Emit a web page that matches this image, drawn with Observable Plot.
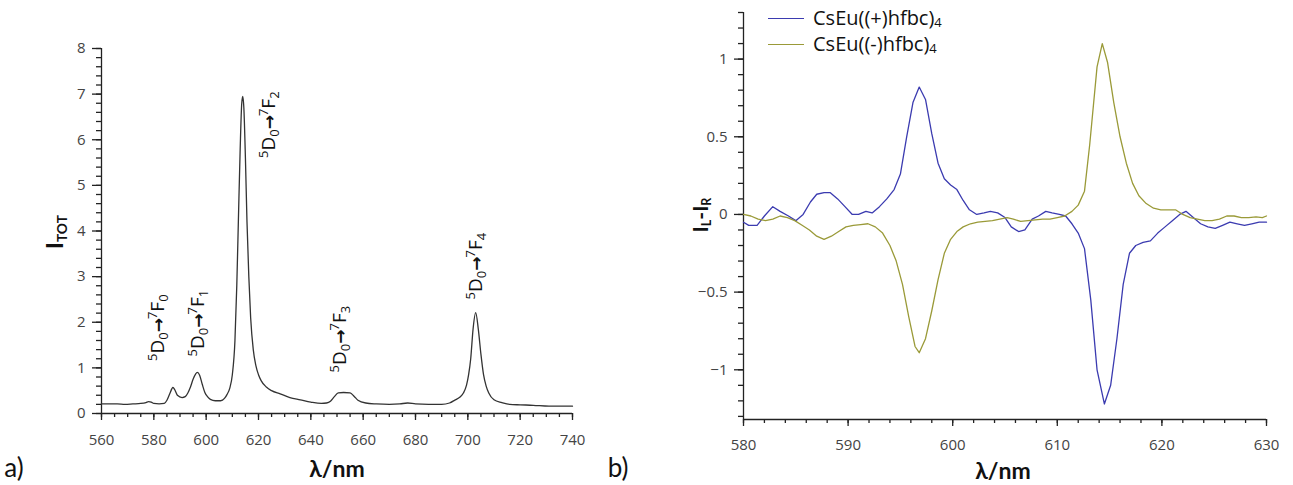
<!DOCTYPE html>
<html><head><meta charset="utf-8">
<script src="https://cdn.jsdelivr.net/npm/d3@7"></script>
<script src="https://cdn.jsdelivr.net/npm/@observablehq/plot@0.6"></script>
<style>
body{margin:0;background:#fff;}
#wrap{position:relative;width:1293px;height:485px;overflow:hidden;background:#fff;}
.plot{position:absolute;top:0;}
.lab{position:absolute;font-family:Lato,"Open Sans",sans-serif;font-weight:700;color:#111;white-space:nowrap;line-height:1;transform:translate(-50%,-50%);}
.rot{transform:translate(-50%,-50%) rotate(-90deg);}
.lab sub{font-size:0.6em;vertical-align:-0.25em;}
.panel{position:absolute;font-family:Lato,sans-serif;font-size:26px;color:#111;line-height:1;transform:translate(-50%,-50%);}
.leg{position:absolute;font-family:"Open Sans",sans-serif;font-size:20px;color:#111;line-height:1;white-space:nowrap;transform:translateY(-50%);}
.leg sub{font-size:0.65em;vertical-align:-0.15em;line-height:0;}
.legline{position:absolute;height:0;width:36px;}
</style></head>
<body>
<div id="wrap"></div>
<script>
// ---------- Panel a: total emission ----------
const lambdaA = [560,563,566,569,572,575,577,578,579,580,582,584,585,586,587.3,588,589,590.8,592,593,594,595,596,596.6,597.5,598.5,599.5,600.5,601.6,603.5,605.5,607,608,609,610,611,611.7,612.3,613,613.6,614,614.4,615,615.6,616.3,617,618,619,620,621,623,625,628.3,632,636,640,644,646,647.5,649,650.5,652.5,655,656.5,658,661,665,670,674,677,680,685,690,693,695.2,697,698.3,699.5,700.3,701.1,702,703,704,705,706,707,708,710,713,716,720,725,731,735,740];
const itot    = [0.21,0.21,0.21,0.2,0.21,0.22,0.24,0.26,0.25,0.22,0.21,0.22,0.29,0.42,0.57,0.52,0.4,0.35,0.37,0.45,0.58,0.75,0.87,0.9,0.84,0.64,0.46,0.37,0.31,0.28,0.28,0.33,0.42,0.55,0.85,1.6,2.8,4.2,5.8,6.8,6.95,6.7,5.6,4.2,3.0,2.1,1.4,1.05,0.85,0.72,0.58,0.5,0.43,0.35,0.3,0.25,0.22,0.23,0.27,0.37,0.45,0.46,0.45,0.38,0.29,0.23,0.21,0.2,0.21,0.23,0.21,0.2,0.2,0.23,0.3,0.36,0.45,0.62,0.85,1.2,1.85,2.21,1.85,1.3,0.85,0.6,0.45,0.3,0.24,0.2,0.19,0.18,0.16,0.16,0.16];
const xTicksA = [560,580,600,620,640,660,680,700,720,740];
const yTicksA = [0,1,2,3,4,5,6,7,8];
const transLambda = [581.5,597,624,651.3,702.9];
const transY      = [1.15,1.25,5.6,0.9,2.5];
const transText   = ["5D0→7F0","5D0→7F1","5D0→7F2","5D0→7F3","5D0→7F4"];

// ---------- Panel b: CPL ----------
const lambdaPlus = [580,580.5,581.3,582,582.8,583.5,584.3,585,585.7,586.4,587,587.7,588.3,589,589.7,590.4,591,591.7,592.3,593,593.7,594.4,595,595.6,596.2,596.8,597.4,598,598.6,599.2,599.8,600.4,601,601.6,602.3,603,603.6,604.3,605,605.6,606.3,606.9,607.6,608.2,608.9,609.5,610.2,610.8,611.4,612,612.6,613.2,613.8,614.5,615.1,615.7,616.3,616.9,617.5,618.2,618.9,619.6,620.3,621,621.7,622.3,623,623.7,624.4,625.1,625.8,626.5,627.2,627.9,628.6,629.3,630];
const valPlus    = [-0.05,-0.07,-0.07,-0.01,0.05,0.02,-0.01,-0.04,0.0,0.08,0.13,0.14,0.14,0.1,0.05,0.0,0.0,0.02,0.01,0.05,0.1,0.16,0.26,0.5,0.72,0.82,0.74,0.52,0.33,0.23,0.19,0.16,0.09,0.03,0.0,0.01,0.02,0.01,-0.02,-0.08,-0.11,-0.1,-0.03,-0.01,0.02,0.01,0.0,-0.01,-0.06,-0.12,-0.22,-0.55,-1.0,-1.22,-1.1,-0.8,-0.45,-0.25,-0.2,-0.18,-0.17,-0.12,-0.08,-0.04,0.0,0.02,-0.02,-0.06,-0.08,-0.09,-0.07,-0.05,-0.06,-0.07,-0.06,-0.05,-0.05];
const lambdaMinus = [580,580.7,581.4,582.1,582.8,583.5,584.2,584.9,585.6,586.3,587,587.7,588.4,589.1,589.8,590.5,591.2,591.9,592.6,593.3,594,594.6,595.2,595.8,596.4,596.8,597.4,598,598.6,599.2,599.8,600.4,601,601.7,602.4,603.1,603.8,604.5,605.2,605.8,606.5,607.2,607.9,608.6,609.3,610,610.7,611.4,612,612.6,613.1,613.8,614.3,614.8,615.4,616,616.6,617.2,617.8,618.5,619.2,619.9,620.6,621.3,622,622.7,623.4,624.1,624.8,625.5,626.2,626.9,627.6,628.3,629,629.6,630];
const valMinus    = [0.0,-0.01,-0.03,-0.04,-0.03,-0.01,-0.02,-0.04,-0.07,-0.1,-0.14,-0.16,-0.14,-0.11,-0.08,-0.07,-0.065,-0.06,-0.08,-0.12,-0.2,-0.3,-0.45,-0.66,-0.85,-0.89,-0.8,-0.62,-0.42,-0.25,-0.16,-0.11,-0.08,-0.06,-0.05,-0.045,-0.04,-0.03,-0.02,-0.03,-0.045,-0.04,-0.035,-0.03,-0.03,-0.02,-0.01,0.02,0.06,0.15,0.45,0.95,1.1,0.98,0.72,0.5,0.33,0.2,0.12,0.07,0.04,0.03,0.03,0.03,0.0,-0.02,-0.03,-0.04,-0.04,-0.03,-0.01,-0.01,-0.02,-0.02,-0.015,-0.02,-0.01];
const seriesNames = ["CsEu((+)hfbc)4","CsEu((-)hfbc)4"];
const seriesColors = ["#3b3bb0","#9a9a38"];
const xTicksB = [580,590,600,610,620,630];
const yTicksB = [-1,-0.5,0,0.5,1];

const fmt = d => d3.format("~g")(d).replace("-", "\u2212");
const wrap = document.getElementById("wrap");

function axes(xMajor, xMinor, yMajor, yMinor, padX) {
  return [
    Plot.axisX({ticks: xMajor, tickSize: 7, tickPadding: padX, tickFormat: fmt, label: null, color: "#444", stroke: "#222", strokeWidth: 1.3}),
    Plot.axisX({ticks: xMinor, tickSize: 4, tickFormat: () => "", label: null, stroke: "#222", strokeWidth: 1.3}),
    Plot.axisY({ticks: yMajor, tickSize: 9, tickPadding: 7, tickFormat: fmt, label: null, color: "#444", stroke: "#222", strokeWidth: 1.3}),
    Plot.axisY({ticks: yMinor, tickSize: 5, tickFormat: () => "", label: null, stroke: "#222", strokeWidth: 1.3})
  ];
}
// enlarge every axis tick label (all texts outside the annotation mark)
function bigTicks(svg) {
  svg.querySelectorAll("text").forEach(t => {
    if (t.closest('g[aria-label="text"]')) return;
    t.setAttribute("font-size", "15");
    t.style.fontSize = "15px";
    t.style.fontFamily = "'Open Sans'";
  });
}

// Panel a
const dataA = lambdaA.map((l, i) => ({l, v: itot[i]}));
const labelsA = transText.map((t, i) => ({x: transLambda[i], y: transY[i], t}));
const plotA = Plot.plot({
  width: 600, height: 485,
  marginLeft: 101, marginRight: 28, marginTop: 48, marginBottom: 72,
  style: {fontFamily: "Open Sans", fontSize: "15px", background: "transparent", overflow: "visible"},
  x: {domain: [560, 740]},
  y: {domain: [0, 8]},
  marks: [
    ...axes(xTicksA, d3.range(560, 741, 5), yTicksA, d3.range(0, 8.01, 0.2).map(d => +d.toFixed(1)), 14),
    Plot.ruleX([560], {y1: 0, y2: 8, stroke: "#222", strokeWidth: 1.3}),
    Plot.ruleY([0], {x1: 560, x2: 740, stroke: "#222", strokeWidth: 1.3}),
    Plot.line(dataA, {x: "l", y: "v", stroke: "#333", strokeWidth: 1.3, curve: "monotone-x"}),
    Plot.text(labelsA, {x: "x", y: "y", text: "t", rotate: -90, textAnchor: "start", fontSize: 19, fontFamily: "Open Sans", fill: "#111"})
  ]
});
plotA.classList.add("plot");
plotA.style.left = "0px";
wrap.appendChild(plotA);
bigTicks(plotA);

// rich text for transitions: superscript / subscript
plotA.querySelectorAll('g[aria-label="text"] text').forEach(t => {
  const s = t.textContent;
  const m = s.match(/^(\d)D(\d)→(\d)F(\d)$/);
  if (!m) return;
  t.textContent = "";
  const parts = [[m[1], 13, -7], ["D", 19, 7], [m[2], 13, 4], ["→", 17, -4, true], [m[3], 13, -7], ["F", 19, 7], [m[4], 13, 4]];
  parts.forEach(([txt, fs, dy, arrow]) => {
    const ts = document.createElementNS("http://www.w3.org/2000/svg", "tspan");
    ts.setAttribute("font-size", fs);
    ts.setAttribute("dy", dy);
    if (arrow) {
      ts.setAttribute("font-family", "DejaVu Sans");
      ts.setAttribute("font-weight", "bold");
      ts.setAttribute("letter-spacing", "-1");
    }
    ts.textContent = txt;
    t.appendChild(ts);
  });
});

// Panel b
const dataB = [
  ...lambdaPlus.map((l, i) => ({l, v: valPlus[i], s: seriesNames[0]})),
  ...lambdaMinus.map((l, i) => ({l, v: valMinus[i], s: seriesNames[1]}))
];
const plotB = Plot.plot({
  width: 653, height: 485,
  marginLeft: 103, marginRight: 27, marginTop: 12, marginBottom: 66,
  style: {fontFamily: "Open Sans", fontSize: "15px", background: "transparent", overflow: "visible"},
  x: {domain: [580, 630]},
  y: {domain: [-1.32, 1.3]},
  color: {domain: seriesNames, range: seriesColors},
  marks: [
    ...axes(xTicksB, d3.range(580, 630.1, 2), yTicksB, d3.range(-13, 13.1, 1).map(d => d / 10), 13),
    Plot.ruleX([580], {y1: -1.32, y2: 1.3, stroke: "#222", strokeWidth: 1.3}),
    Plot.ruleY([-1.32], {x1: 580, x2: 630, stroke: "#222", strokeWidth: 1.3}),
    Plot.line(dataB, {x: "l", y: "v", z: "s", stroke: "s", strokeWidth: 1.3})
  ]
});
plotB.classList.add("plot");
plotB.style.left = "640px";
wrap.appendChild(plotB);
bigTicks(plotB);

// HTML labels
function add(html, cls, x, y, extra) {
  const d = document.createElement("div");
  d.className = cls;
  d.innerHTML = html;
  d.style.left = x + "px";
  d.style.top = y + "px";
  if (extra) Object.assign(d.style, extra);
  wrap.appendChild(d);
  return d;
}
add("I<sub>TOT</sub>", "lab rot", 56, 232, {fontSize: "23px"});
add("λ/nm", "lab", 337, 468, {fontSize: "23px"});
add("I<sub>L</sub>-I<sub>R</sub>", "lab rot", 701, 215, {fontSize: "21px"});
add("λ/nm", "lab", 1003, 470, {fontSize: "23px"});
add("a)", "panel", 14, 467);
add("b)", "panel", 618, 467);

// legend
seriesNames.forEach((n, i) => {
  const y = 18 + i * 26;
  add("", "legline", 768, y, {borderTop: "1.5px solid " + seriesColors[i]});
  add(n.replace(/4$/, "<sub>4</sub>"), "leg", 813, y);
});
</script>
</body></html>
